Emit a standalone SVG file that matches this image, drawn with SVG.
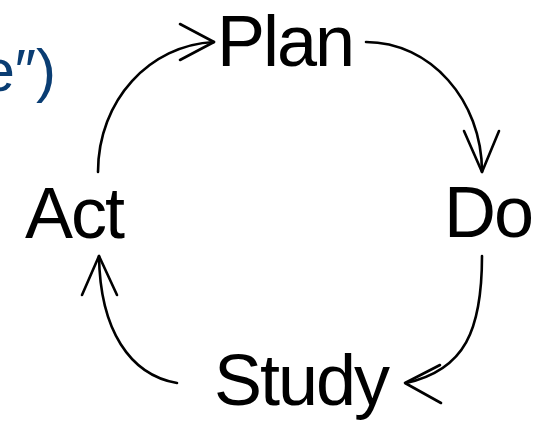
<svg xmlns="http://www.w3.org/2000/svg" width="537" height="423" viewBox="0 0 537 423">
<style>
.lbl{font-family:"Liberation Sans",Arial,sans-serif;font-size:72px;fill:#000;letter-spacing:-2px}
.cap{font-family:"Liberation Sans",Arial,sans-serif;font-size:60px;fill:#0A3D73}
.c{fill:none;stroke:#000;stroke-width:2.6;stroke-linecap:round;stroke-linejoin:round}
</style>
<rect width="537" height="423" fill="#fff"/>
<text class="cap" x="56" y="91" text-anchor="end">e″)</text>
<g id="plan"><text class="lbl" x="217" y="66">Plan</text></g>
<g id="do"><text class="lbl" x="444" y="237">Do</text></g>
<g id="study"><text class="lbl" x="214" y="405">Study</text></g>
<g id="act"><text class="lbl" x="25" y="238">Act</text></g>
<g id="connectors">
<path class="c" d="M98,172 C98,100 150,45 214,42"/>
<path class="c" d="M180,24 L214,42 L180,60"/>
<path class="c" d="M366,42 C430,42 482,100 482,172"/>
<path class="c" d="M464,131 L482,172 L499,131"/>
<path class="c" d="M482,256 C482,330 465,370 406,383"/>
<path class="c" d="M440,365 L405,383 L441,403"/>
<path class="c" d="M177,383 C130,375 100,330 99,256"/>
<path class="c" d="M82,295 L99,256 L117,295"/>
</g>
</svg>
